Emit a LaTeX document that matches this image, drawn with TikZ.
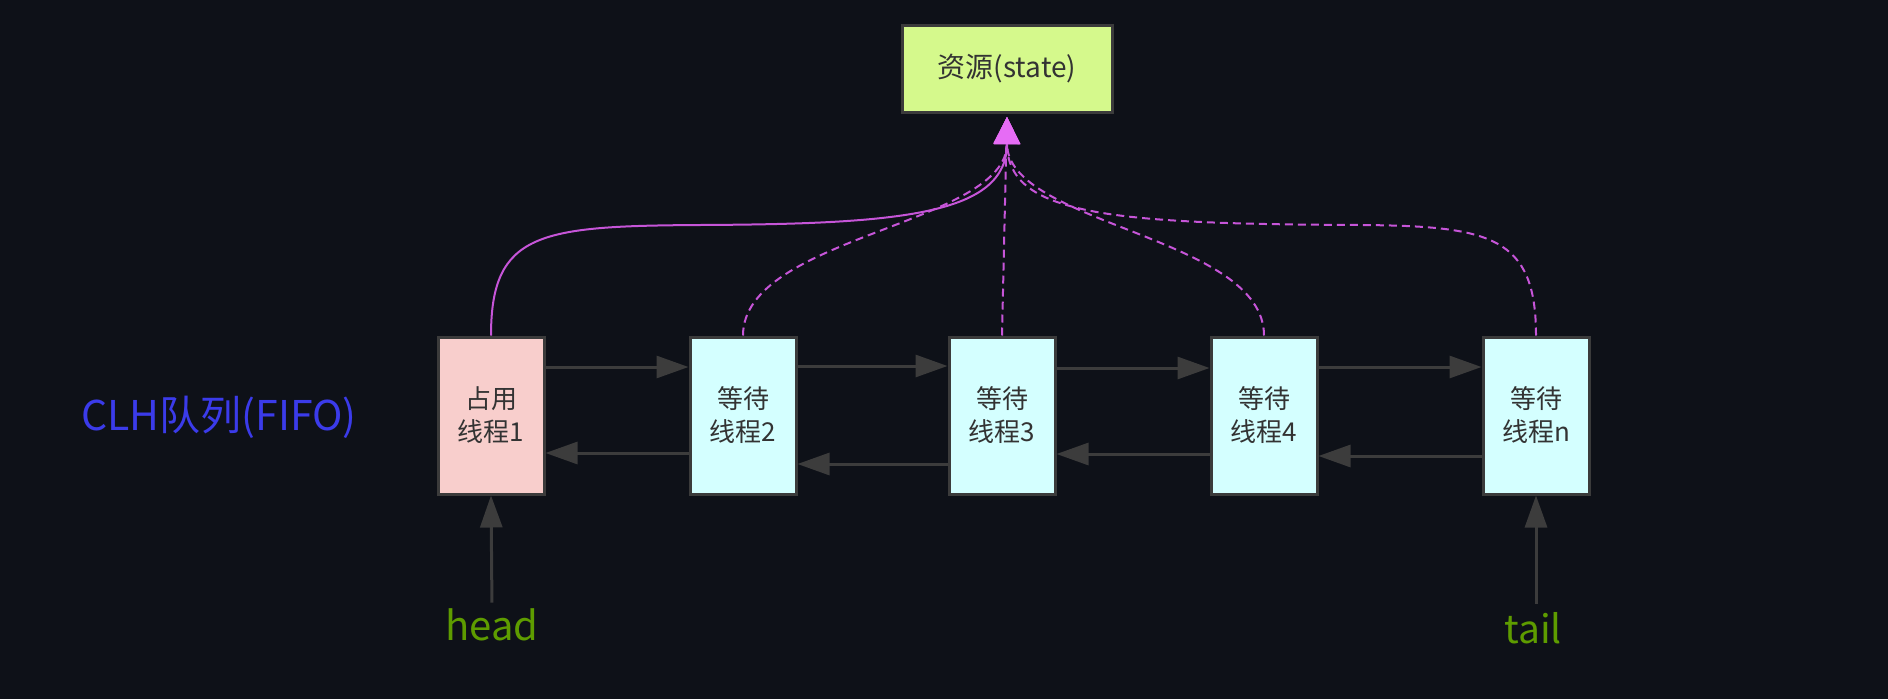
\documentclass[tikz,border=0pt]{standalone}
\usepackage{fontspec}
\setmainfont{Noto Sans CJK SC}
\usetikzlibrary{arrows.meta}
\definecolor{bg}{HTML}{0E1118}
\definecolor{bord}{HTML}{3B3B3B}
\definecolor{arrg}{HTML}{3C3C3C}
\definecolor{pinkf}{HTML}{F8CECC}
\definecolor{cyanf}{HTML}{D4FFFF}
\definecolor{greenf}{HTML}{D5F98C}
\definecolor{txt}{HTML}{333333}
\definecolor{magL}{HTML}{C655D8}
\definecolor{magH}{HTML}{E66CF5}
\definecolor{blueT}{HTML}{3B3BEA}
\definecolor{greenT}{HTML}{5E9C00}
\tikzset{
  thread/.style={draw=bord, line width=3pt, minimum width=106pt, minimum height=157pt,
    inner sep=0pt, align=center, text=txt, font=\fontsize{26pt}{33pt}\selectfont},
  res/.style={draw=bord, line width=3pt, fill=greenf, minimum width=210pt, minimum height=87pt,
    inner sep=0pt, text=txt, font=\fontsize{28pt}{32pt}\selectfont},
  link/.style={draw=arrg, line width=3pt, -{Triangle[length=32pt,width=22pt]}},
  uses/.style={draw=magL, line width=2pt, shorten >=3pt, -{Triangle[length=27pt,width=26pt,color=magH]}},
  waits/.style={uses, dash pattern=on 8pt off 5pt},
  lbl/.style={inner sep=0pt, font=\fontsize{41pt}{46pt}\selectfont},
}
\begin{document}
\begin{tikzpicture}[x=1pt,y=-1pt]
\fill[bg] (0,0) rectangle (1888,699);
\useasboundingbox (0,0) rectangle (1888,699);

\node[res] (state) at (1007,69) {资源(state)};

\node[thread, fill=pinkf] (b1) at (491,415.5) {占用\\线程1};
\node[thread, fill=cyanf] (b2) at (743,415.5) {等待\\线程2};
\node[thread, fill=cyanf] (b3) at (1002,415.5) {等待\\线程3};
\node[thread, fill=cyanf] (b4) at (1264,415.5) {等待\\线程4};
\node[thread, fill=cyanf] (bn) at (1536,415.5) {等待\\线程n};

\node[lbl, text=blueT] (clh) at (219,417) {CLH队列(FIFO)};
\node[lbl, text=greenT, font=\fontsize{40pt}{46pt}\selectfont] (head) at (492,625) {head};
\node[lbl, text=greenT, font=\fontsize{39pt}{46pt}\selectfont] (tail) at (1533,628) {tail};

% links between threads
\draw[link] ([yshift=48.5pt]b1.east) -- ([yshift=48.5pt]b2.west);
\draw[link] ([yshift=-37.5pt]b2.west) -- ([yshift=-37.5pt]b1.east);
\draw[link] ([yshift=49.5pt]b2.east) -- ([yshift=49.5pt]b3.west);
\draw[link] ([yshift=-48.5pt]b3.west) -- ([yshift=-48.5pt]b2.east);
\draw[link] ([yshift=47.5pt]b3.east) -- ([yshift=47.5pt]b4.west);
\draw[link] ([yshift=-38.5pt]b4.west) -- ([yshift=-38.5pt]b3.east);
\draw[link] ([yshift=48.5pt]b4.east) -- ([yshift=48.5pt]bn.west);
\draw[link] ([yshift=-40.5pt]bn.west) -- ([yshift=-40.5pt]b4.east);

\draw[link, shorten <=6pt] (head.north) -- (b1.south);
\draw[link, shorten <=8pt] (tail.north -| bn.south) -- (bn.south);

% resource usage
\draw[uses] (b1.north) .. controls (491,232) and (540,226) .. (700,225)
  .. controls (900,224) and (1007,215) .. (state.south);
\draw[waits] (b2.north) .. controls (743,236) and (1007,225) .. (state.south);
\draw[waits] (b3.north) -- (state.south);
\draw[waits] (b4.north) .. controls (1264,236) and (1007,225) .. (state.south);
\draw[waits] (bn.north) .. controls (1536,236) and (1490,226) .. (1360,225)
  .. controls (1110,224) and (1007,215) .. (state.south);
\end{tikzpicture}
\end{document}
